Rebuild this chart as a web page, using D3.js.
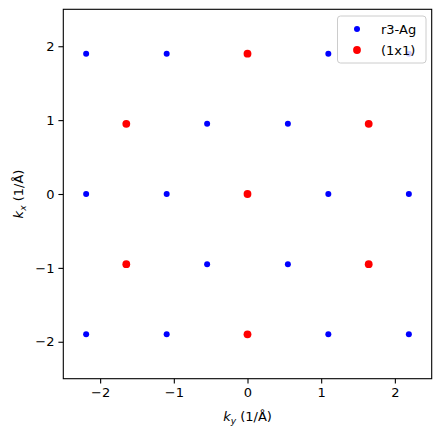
<!DOCTYPE html>
<html><head><meta charset="utf-8">
<script src="https://cdn.jsdelivr.net/npm/d3@7"></script>
<style>body{margin:0;background:#fff}svg{display:block}text{font-family:"DejaVu Sans",sans-serif}</style>
</head><body>
<script>
// r3-Ag reciprocal lattice points (ky, kx)
const r3Ky = [-2.19,-1.097,0,1.097,2.19, -1.645,-0.548,0.548,1.645, -2.19,-1.097,0,1.097,2.19, -1.645,-0.548,0.548,1.645, -2.19,-1.097,0,1.097,2.19];
const r3Kx = [1.9,1.9,1.9,1.9,1.9, 0.95,0.95,0.95,0.95, 0,0,0,0,0, -0.95,-0.95,-0.95,-0.95, -1.9,-1.9,-1.9,-1.9,-1.9];
// (1x1) points
const oneKy = [0, -1.645, 1.645, 0, -1.645, 1.645, 0];
const oneKx = [1.9, 0.95, 0.95, 0, -0.95, -0.95, -1.9];
const ticks = [-2,-1,0,1,2];
const seriesNames = ["r3-Ag","(1x1)"];
const colors = ["#0000ff","#ff0000"];

const W=442,H=436, L=63.3, R=431.7, T=9.3, B=378.7;
const svg=d3.select("body").append("svg").attr("width",W).attr("height",H);
const x=d3.scaleLinear().domain([-2.5,2.5]).range([L,R]);
const y=d3.scaleLinear().domain([-2.5,2.5]).range([B,T]);

const fs=13;
svg.append("g").attr("transform",`translate(0,${B})`)
  .call(d3.axisBottom(x).tickValues(ticks).tickSize(4.9).tickPadding(4).tickFormat(d=>d<0?"\u2212"+Math.abs(d):d))
  .call(g=>{g.select(".domain").remove();g.selectAll("line").attr("stroke","#000").attr("stroke-width",1.1);g.selectAll("text").attr("font-size",fs).attr("fill","#000").attr("font-family","DejaVu Sans");});
svg.append("g").attr("transform",`translate(${L},0)`)
  .call(d3.axisLeft(y).tickValues(ticks).tickSize(4.9).tickPadding(4).tickFormat(d=>d<0?"\u2212"+Math.abs(d):d))
  .call(g=>{g.select(".domain").remove();g.selectAll("line").attr("stroke","#000").attr("stroke-width",1.1);g.selectAll("text").attr("font-size",fs).attr("fill","#000").attr("font-family","DejaVu Sans");});

const r3=r3Ky.map((v,i)=>({ky:v,kx:r3Kx[i]}));
const one=oneKy.map((v,i)=>({ky:v,kx:oneKx[i]}));
svg.append("g").selectAll("circle").data(r3).join("circle")
  .attr("cx",d=>x(d.ky)).attr("cy",d=>y(d.kx)).attr("r",3).attr("fill",colors[0]);
svg.append("g").selectAll("circle").data(one).join("circle")
  .attr("cx",d=>x(d.ky)).attr("cy",d=>y(d.kx)).attr("r",3.9).attr("fill",colors[1]);

svg.append("rect").attr("x",L).attr("y",T).attr("width",R-L).attr("height",B-T)
  .attr("fill","none").attr("stroke","#000").attr("stroke-width",1.1);

// legend
const lg=svg.append("g");
lg.append("rect").attr("x",337.5).attr("y",16).attr("width",88.5).attr("height",47).attr("rx",3)
  .attr("fill","#fff").attr("fill-opacity",0.8).attr("stroke","#cccccc").attr("stroke-width",1);
seriesNames.forEach((n,i)=>{
  lg.append("circle").attr("cx",357).attr("cy",29+i*21).attr("r",i?3.9:3).attr("fill",colors[i]);
  lg.append("text").attr("x",381).attr("y",29+i*21).attr("dy","0.35em").attr("font-size",fs).text(n);
});

// axis labels
const xl=svg.append("text").attr("x",(L+R)/2).attr("y",421).attr("text-anchor","middle").attr("font-size",fs);
xl.append("tspan").attr("font-style","italic").text("k");
xl.append("tspan").attr("font-style","italic").attr("font-size",fs*0.7).attr("dy",3).text("y");
xl.append("tspan").attr("dy",-3).text(" (1/Å)");
const yl=svg.append("text").attr("transform",`translate(23,${(T+B)/2}) rotate(-90)`).attr("text-anchor","middle").attr("font-size",fs);
yl.append("tspan").attr("font-style","italic").text("k");
yl.append("tspan").attr("font-style","italic").attr("font-size",fs*0.7).attr("dy",3).text("x");
yl.append("tspan").attr("dy",-3).text(" (1/Å)");
</script>
</body></html>
